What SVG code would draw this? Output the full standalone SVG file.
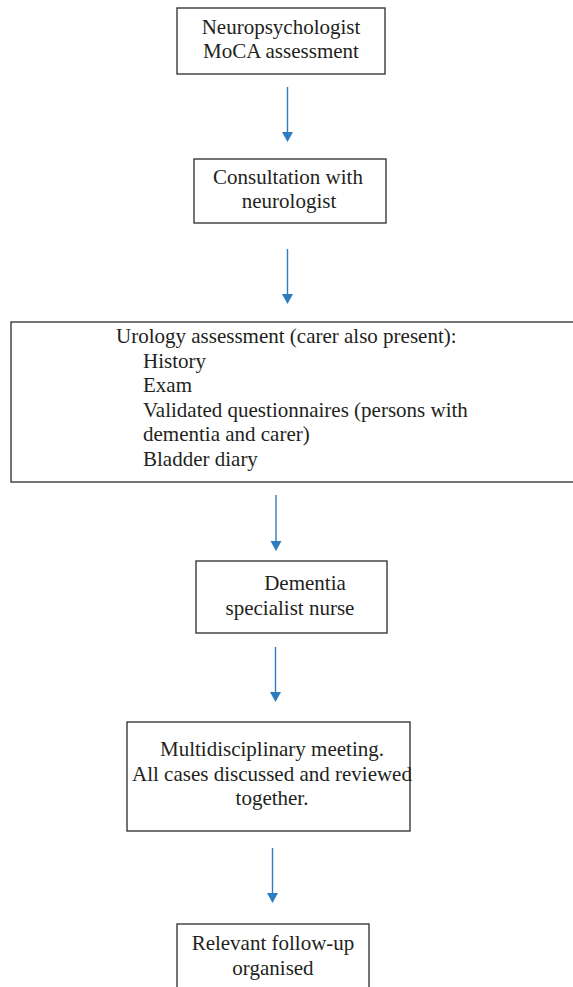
<svg xmlns="http://www.w3.org/2000/svg" width="573" height="987" viewBox="0 0 573 987">
<style>
.box{fill:#fff;stroke:#3a3a3a;stroke-width:1.4}
.t{font-family:"Liberation Serif","Times New Roman",serif;font-size:21px;fill:#231f20}
.c{text-anchor:middle}
.ln{stroke:#2d7dc0;stroke-width:1.4;fill:none}
.hd{fill:#2d7dc0}
</style>
<rect width="573" height="987" fill="#fff"/>
<g id="connectors">
<line class="ln" x1="287.5" y1="87" x2="287.5" y2="133"/><polygon class="hd" points="282,132 293,132 287.5,142"/>
<line class="ln" x1="287.5" y1="249" x2="287.5" y2="295"/><polygon class="hd" points="282,294 293,294 287.5,304"/>
<line class="ln" x1="276" y1="495" x2="276" y2="542"/><polygon class="hd" points="270.5,541 281.5,541 276,551"/>
<line class="ln" x1="275.5" y1="647" x2="275.5" y2="693"/><polygon class="hd" points="270,692 281,692 275.5,702"/>
<line class="ln" x1="272.5" y1="848" x2="272.5" y2="894"/><polygon class="hd" points="267,893 278,893 272.5,903"/>
</g>
<g id="n1">
<rect class="box" x="177" y="8" width="208" height="66"/>
<text class="t c" x="281" y="34">Neuropsychologist</text>
<text class="t c" x="281" y="58">MoCA assessment</text>
</g>
<g id="n2">
<rect class="box" x="194" y="159" width="192" height="64"/>
<text class="t c" x="288" y="184">Consultation with</text>
<text class="t c" x="289" y="208">neurologist</text>
</g>
<g id="n3">
<rect class="box" x="11" y="322" width="570" height="160"/>
<text class="t" x="116" y="343">Urology assessment (carer also present):</text>
<text class="t" x="143" y="367.5">History</text>
<text class="t" x="143" y="392">Exam</text>
<text class="t" x="143" y="416.5">Validated questionnaires (persons with</text>
<text class="t" x="143" y="441">dementia and carer)</text>
<text class="t" x="143" y="465.5">Bladder diary</text>
</g>
<g id="n4">
<rect class="box" x="196" y="561" width="191" height="72"/>
<text class="t c" x="305" y="590">Dementia</text>
<text class="t c" x="290" y="615">specialist nurse</text>
</g>
<g id="n5">
<rect class="box" x="127" y="722" width="283" height="109"/>
<text class="t c" x="272" y="756">Multidisciplinary meeting.</text>
<text class="t c" x="272" y="780.5">All cases discussed and reviewed</text>
<text class="t c" x="272" y="805">together.</text>
</g>
<g id="n6">
<rect class="box" x="177" y="924" width="192" height="80"/>
<text class="t c" x="273" y="950">Relevant follow-up</text>
<text class="t c" x="273" y="975">organised</text>
</g>
</svg>
